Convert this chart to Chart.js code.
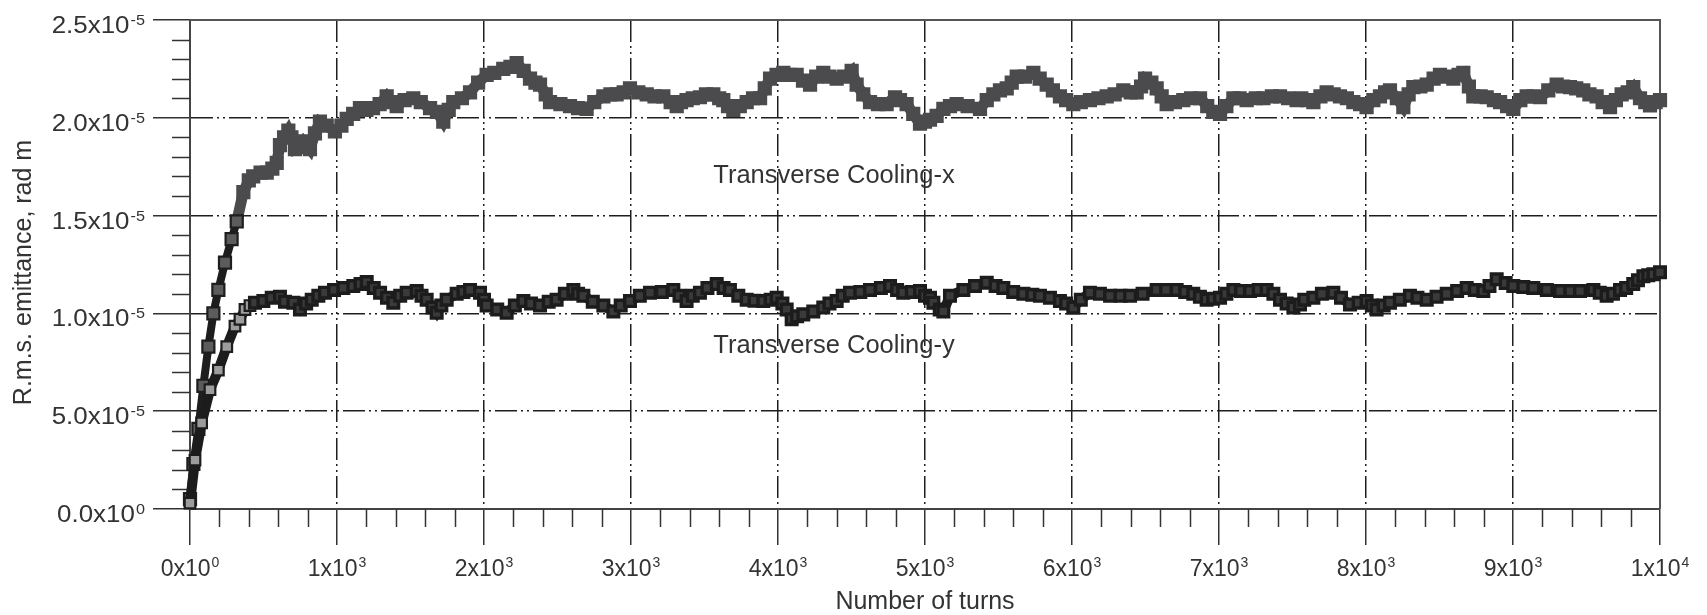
<!DOCTYPE html>
<html>
<head>
<meta charset="utf-8">
<script src="https://cdn.jsdelivr.net/npm/chart.js@4.4.1/dist/chart.umd.min.js"></script>
<style>
  html, body { margin: 0; padding: 0; background: #fff; }
  #wrap { width: 1707px; height: 615px; }
</style>
</head>
<body>
<div id="wrap"><canvas id="emitChart" width="1707" height="615"></canvas></div>
<script>
// emittance values in units of 1e-5 rad m
const turnsX = [0, 23, 57, 91, 125, 159, 193, 238, 283, 318, 363, 400, 430, 480, 522, 560, 590, 612, 640, 669,
  690, 714, 740, 771, 795, 816, 850, 884, 930, 986, 1030, 1066, 1110, 1156, 1200, 1245, 1290, 1338, 1370, 1406,
  1460, 1519, 1570, 1633, 1680, 1723, 1760, 1791, 1850, 1905, 1960, 2018, 2070, 2131, 2180, 2222, 2270, 2313, 2350, 2381,
  2420, 2449, 2520, 2585, 2640, 2698, 2750, 2812, 2860, 2902, 2950, 2993, 3050, 3107, 3160, 3220, 3270, 3311, 3340, 3378,
  3420, 3469, 3510, 3560, 3600, 3628, 3660, 3696, 3740, 3787, 3830, 3878, 3910, 3946, 3990, 4036, 4080, 4127, 4170, 4218,
  4260, 4308, 4350, 4399, 4450, 4501, 4535, 4580, 4626, 4680, 4739, 4796, 4830, 4875, 4920, 4966, 5000, 5034, 5079, 5125,
  5170, 5215, 5290, 5374, 5420, 5465, 5510, 5556, 5590, 5624, 5680, 5737, 5780, 5828, 5870, 5918, 5960, 6009, 6060, 6122,
  6180, 6236, 6290, 6349, 6400, 6440, 6470, 6497, 6540, 6576, 6610, 6644, 6700, 6757, 6810, 6871, 6920, 6961, 7007, 7050,
  7098, 7140, 7188, 7250, 7302, 7360, 7415, 7470, 7528, 7560, 7600, 7642, 7690, 7732, 7780, 7823, 7870, 7914, 7960, 8004,
  8050, 8095, 8130, 8163, 8210, 8254, 8290, 8322, 8370, 8413, 8460, 8503, 8550, 8594, 8630, 8662, 8700, 8730, 8780, 8821,
  8870, 8912, 8960, 9002, 9050, 9093, 9140, 9184, 9240, 9297, 9340, 9388, 9430, 9478, 9520, 9569, 9610, 9660, 9700, 9739,
  9780, 9818, 9864, 9900, 9932, 9970, 10000];
const emitX = [0.05, 0.23, 0.41, 0.63, 0.83, 1.00, 1.12, 1.26, 1.38, 1.47, 1.62, 1.68, 1.70, 1.72, 1.72, 1.74, 1.77, 1.86, 1.90, 1.935,
  1.90, 1.84, 1.85, 1.88, 1.86, 1.84, 1.92, 1.98, 1.96, 1.93, 1.96, 1.995, 2.02, 2.05, 2.04, 2.05, 2.07, 2.11, 2.08, 2.06,
  2.09, 2.10, 2.08, 2.05, 2.03, 1.98, 2.04, 2.08, 2.10, 2.13, 2.18, 2.22, 2.23, 2.25, 2.26, 2.28, 2.24, 2.20, 2.18, 2.17,
  2.12, 2.08, 2.07, 2.06, 2.05, 2.046, 2.08, 2.11, 2.12, 2.12, 2.13, 2.15, 2.13, 2.12, 2.11, 2.11, 2.08, 2.06, 2.08, 2.09,
  2.10, 2.105, 2.12, 2.12, 2.10, 2.09, 2.06, 2.04, 2.06, 2.08, 2.10, 2.10, 2.15, 2.20, 2.22, 2.23, 2.22, 2.22, 2.19, 2.17,
  2.21, 2.23, 2.21, 2.20, 2.21, 2.24, 2.17, 2.12, 2.08, 2.07, 2.07, 2.105, 2.09, 2.07, 2.02, 1.97, 1.98, 1.99, 2.01, 2.046,
  2.06, 2.07, 2.06, 2.046, 2.09, 2.12, 2.14, 2.15, 2.18, 2.21, 2.21, 2.23, 2.20, 2.17, 2.14, 2.11, 2.09, 2.07, 2.08, 2.09,
  2.10, 2.11, 2.12, 2.14, 2.13, 2.13, 2.16, 2.20, 2.18, 2.15, 2.11, 2.07, 2.08, 2.09, 2.10, 2.10, 2.06, 2.03, 2.02, 2.06,
  2.10, 2.10, 2.09, 2.10, 2.10, 2.11, 2.11, 2.10, 2.09, 2.10, 2.09, 2.08, 2.11, 2.13, 2.12, 2.11, 2.10, 2.08, 2.07, 2.055,
  2.09, 2.11, 2.13, 2.14, 2.10, 2.055, 2.12, 2.157, 2.16, 2.17, 2.20, 2.22, 2.21, 2.20, 2.22, 2.23, 2.16, 2.11, 2.11, 2.105,
  2.09, 2.08, 2.06, 2.046, 2.09, 2.11, 2.11, 2.105, 2.14, 2.17, 2.16, 2.157, 2.15, 2.14, 2.12, 2.11, 2.08, 2.055, 2.09, 2.12,
  2.13, 2.157, 2.10, 2.08, 2.063, 2.08, 2.09];

const turnsY = [0, 34, 79, 136, 193, 250, 306, 340, 374, 408, 442, 499, 556, 612, 646, 703, 748, 790, 828, 873,
  918, 980, 1043, 1111, 1160, 1202, 1250, 1293, 1340, 1383, 1430, 1474, 1542, 1575, 1610, 1650, 1678, 1710, 1746, 1814,
  1860, 1905, 1973, 2000, 2018, 2090, 2154, 2210, 2268, 2320, 2381, 2440, 2494, 2550, 2608, 2640, 2676, 2740, 2812, 2880,
  2930, 2993, 3060, 3129, 3210, 3288, 3330, 3378, 3420, 3469, 3520, 3583, 3630, 3673, 3730, 3787, 3840, 3900, 3950, 3991,
  4030, 4059, 4093, 4130, 4172, 4240, 4308, 4350, 4399, 4440, 4490, 4560, 4626, 4700, 4762, 4810, 4852, 4910, 4966, 5000,
  5034, 5057, 5100, 5125, 5170, 5261, 5340, 5420, 5480, 5533, 5600, 5669, 5730, 5782, 5850, 5918, 5960, 6009, 6060, 6122,
  6190, 6259, 6330, 6395, 6480, 6576, 6640, 6712, 6770, 6825, 6870, 6916, 6960, 7007, 7050, 7098, 7150, 7211, 7270, 7324,
  7370, 7415, 7460, 7506, 7551, 7580, 7642, 7700, 7778, 7830, 7891, 7950, 8004, 8040, 8072, 8120, 8163, 8230, 8299, 8350,
  8413, 8480, 8549, 8620, 8685, 8740, 8798, 8840, 8889, 8950, 9002, 9070, 9138, 9230, 9320, 9390, 9456, 9547, 9590, 9637,
  9680, 9728, 9770, 9818, 9850, 9887, 9920, 9955, 10000];
const emitY = [0.03, 0.25, 0.44, 0.61, 0.71, 0.83, 0.935, 0.97, 1.02, 1.04, 1.055, 1.063, 1.08, 1.085, 1.06, 1.055, 1.02, 1.05, 1.07, 1.09,
  1.106, 1.12, 1.13, 1.14, 1.15, 1.16, 1.13, 1.106, 1.08, 1.055, 1.09, 1.106, 1.114, 1.09, 1.07, 1.03, 1.003, 1.04, 1.07, 1.10,
  1.11, 1.12, 1.106, 1.07, 1.04, 1.02, 1.003, 1.04, 1.063, 1.05, 1.04, 1.06, 1.07, 1.10, 1.12, 1.10, 1.09, 1.06, 1.04, 1.01,
  1.04, 1.063, 1.09, 1.106, 1.11, 1.12, 1.09, 1.063, 1.09, 1.106, 1.13, 1.15, 1.13, 1.12, 1.09, 1.07, 1.065, 1.063, 1.07, 1.08,
  1.05, 1.02, 0.97, 0.985, 0.995, 1.01, 1.03, 1.05, 1.063, 1.09, 1.106, 1.11, 1.12, 1.13, 1.14, 1.12, 1.106, 1.11, 1.114, 1.09,
  1.08, 1.055, 1.02, 1.01, 1.09, 1.12, 1.14, 1.157, 1.14, 1.13, 1.11, 1.10, 1.095, 1.09, 1.08, 1.063, 1.05, 1.03, 1.07, 1.106,
  1.10, 1.09, 1.09, 1.09, 1.10, 1.12, 1.12, 1.12, 1.11, 1.10, 1.085, 1.07, 1.075, 1.08, 1.10, 1.12, 1.115, 1.114, 1.12, 1.12,
  1.10, 1.07, 1.05, 1.03, 1.046, 1.07, 1.08, 1.10, 1.106, 1.08, 1.046, 1.055, 1.063, 1.04, 1.02, 1.04, 1.055, 1.07, 1.09, 1.08,
  1.07, 1.085, 1.10, 1.115, 1.13, 1.12, 1.114, 1.14, 1.174, 1.155, 1.14, 1.135, 1.13, 1.12, 1.114, 1.114, 1.114, 1.12, 1.105, 1.09,
  1.10, 1.12, 1.13, 1.15, 1.17, 1.19, 1.195, 1.20, 1.21];

const xTickValues = [0, 1000, 2000, 3000, 4000, 5000, 6000, 7000, 8000, 9000, 10000];
const xTickBase = ['0x10', '1x10', '2x10', '3x10', '4x10', '5x10', '6x10', '7x10', '8x10', '9x10', '1x10'];
const xTickExp = ['0', '3', '3', '3', '3', '3', '3', '3', '3', '3', '4'];
const yTickValues = [0, 0.5, 1.0, 1.5, 2.0, 2.5];
const yTickBase = ['0.0x10', '5.0x10', '1.0x10', '1.5x10', '2.0x10', '2.5x10'];
const yTickExp = ['0', '-5', '-5', '-5', '-5', '-5'];

const xTitle = 'Number of turns';
const yTitle = 'R.m.s. emittance, rad m';
const curveNotes = [
  { text: 'Transverse Cooling-x', turns: 3560, emit: 1.665 },
  { text: 'Transverse Cooling-y', turns: 3560, emit: 0.80 }
];

const FONT = '"Liberation Sans", Arial, Helvetica, sans-serif';
const EARLY_X = 330;
const EARLY_Y = 420;

function drawPow(ctx, base, exp, x, baseY, expY, size, expSize, align) {
  ctx.font = size + 'px ' + FONT;
  const wb = ctx.measureText(base).width;
  ctx.font = expSize + 'px ' + FONT;
  const we = ctx.measureText(exp).width;
  const total = wb + we + 1;
  let start = align === 'right' ? x - total : x - total / 2;
  ctx.textAlign = 'left';
  ctx.textBaseline = 'alphabetic';
  ctx.font = size + 'px ' + FONT;
  ctx.fillText(base, start, baseY);
  ctx.font = expSize + 'px ' + FONT;
  ctx.fillText(exp, start + wb + 1, expY);
}

const decorPlugin = {
  id: 'decor',
  beforeDatasetsDraw(chart) {
    const ctx = chart.ctx;
    const a = chart.chartArea;
    const xs = chart.scales.x, ys = chart.scales.y;
    ctx.save();
    // solid frame on top and right
    ctx.strokeStyle = '#555';
    ctx.lineWidth = 2;
    ctx.beginPath();
    ctx.moveTo(a.left, a.top);
    ctx.lineTo(a.right, a.top);
    ctx.lineTo(a.right, a.bottom);
    ctx.stroke();
    // minor ticks
    ctx.strokeStyle = '#333';
    ctx.lineWidth = 1.5;
    ctx.beginPath();
    for (let i = 1; i < 50; i++) {
      if (i % 5 === 0) continue;
      const px = Math.round(xs.getPixelForValue(i * 200)) + 0.5;
      ctx.moveTo(px, a.bottom);
      ctx.lineTo(px, a.bottom + 18);
    }
    for (let i = 1; i < 25; i++) {
      if (i % 5 === 0) continue;
      const py = Math.round(ys.getPixelForValue(i / 10)) + 0.5;
      ctx.moveTo(a.left - 18, py);
      ctx.lineTo(a.left, py);
    }
    ctx.stroke();
    ctx.restore();
  },
  afterDraw(chart) {
    const ctx = chart.ctx;
    const a = chart.chartArea;
    const xs = chart.scales.x, ys = chart.scales.y;
    ctx.save();
    ctx.fillStyle = '#333';
    xTickValues.forEach((v, i) => {
      const px = xs.getPixelForValue(v);
      drawPow(ctx, xTickBase[i], xTickExp[i], px, a.bottom + 67, a.bottom + 58, 23, 14, 'center');
    });
    // y labels in the source are a little stretched sideways
    yTickValues.forEach((v, i) => {
      const py = ys.getPixelForValue(v);
      ctx.save();
      ctx.translate(a.left - 45, 0);
      ctx.scale(1.08, 1);
      drawPow(ctx, yTickBase[i], yTickExp[i], 0, py + 13, py + 5, 24, 15, 'right');
      ctx.restore();
    });
    ctx.font = '25px ' + FONT;
    ctx.textAlign = 'center';
    ctx.textBaseline = 'middle';
    ctx.fillText(xTitle, (a.left + a.right) / 2, 602);
    ctx.save();
    ctx.translate(24, (a.top + a.bottom) / 2 + 8);
    ctx.rotate(-Math.PI / 2);
    ctx.fillText(yTitle, 0, 0);
    ctx.restore();
    ctx.font = '25.5px ' + FONT;
    ctx.textAlign = 'left';
    ctx.textBaseline = 'alphabetic';
    curveNotes.forEach(n => {
      ctx.fillText(n.text, xs.getPixelForValue(n.turns), ys.getPixelForValue(n.emit));
    });
    ctx.restore();
  }
};

const gridDash = [22, 4, 2, 4, 2, 4];

new Chart(document.getElementById('emitChart').getContext('2d'), {
  type: 'line',
  data: {
    datasets: [
      {
        label: 'Transverse Cooling-y',
        data: turnsY.map((t, i) => ({ x: t, y: emitY[i] })),
        borderColor: '#1c1c1c',
        borderWidth: 10,
        pointStyle: 'rect',
        pointRadius: 7.5,
        pointBackgroundColor: c => (turnsY[c.dataIndex] < EARLY_Y ? '#9c9c9c' : '#3a3a3a'),
        pointBorderColor: '#1c1c1c',
        pointBorderWidth: c => (turnsY[c.dataIndex] < EARLY_Y ? 2.2 : 3.4),
        tension: 0,
        clip: false
      },
      {
        label: 'Transverse Cooling-x',
        data: turnsX.map((t, i) => ({ x: t, y: emitX[i] })),
        borderColor: '#4b4b4d',
        borderWidth: 11,
        pointStyle: 'rect',
        pointRadius: 8.5,
        pointBackgroundColor: c => (turnsX[c.dataIndex] < EARLY_X ? '#5c5c5c' : '#4b4b4d'),
        pointBorderColor: c => (turnsX[c.dataIndex] < EARLY_X ? '#1e1e1e' : '#4b4b4d'),
        pointBorderWidth: 2.2,
        segment: {
          borderColor: c => (turnsX[c.p1DataIndex] < EARLY_X ? '#1e1e1e' : undefined),
          borderWidth: c => (turnsX[c.p1DataIndex] < EARLY_X ? 8 : undefined)
        },
        tension: 0,
        clip: false
      }
    ]
  },
  options: {
    responsive: false,
    animation: false,
    devicePixelRatio: 1,
    layout: { padding: { left: 153, top: 20, right: 47, bottom: 70 } },
    plugins: { legend: { display: false }, tooltip: { enabled: false } },
    scales: {
      x: {
        type: 'linear',
        min: 0,
        max: 10000,
        afterFit: s => { s.height = 36; },
        ticks: { stepSize: 1000, display: false },
        grid: { color: '#1e1e1e', lineWidth: 1.5, tickLength: 36, tickColor: '#333', tickWidth: 1.5 },
        border: { display: true, color: '#444', width: 2, dash: gridDash }
      },
      y: {
        type: 'linear',
        min: 0,
        max: 2.5,
        afterFit: s => { s.width = 37; },
        ticks: { stepSize: 0.5, display: false },
        grid: { color: '#1e1e1e', lineWidth: 1.5, tickLength: 37, tickColor: '#333', tickWidth: 1.5 },
        border: { display: true, color: '#444', width: 2, dash: gridDash }
      }
    }
  },
  plugins: [decorPlugin]
});
</script>
</body>
</html>
